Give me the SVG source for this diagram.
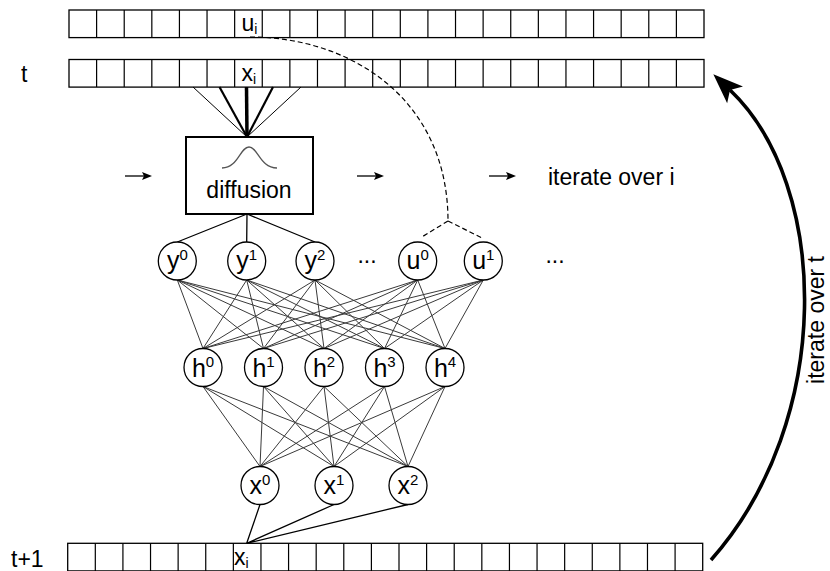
<svg xmlns="http://www.w3.org/2000/svg" xmlns:xlink="http://www.w3.org/1999/xlink" width="830" height="571" viewBox="0 0 830 571">
  <style>
    text { font-family: "Liberation Sans", Arial, sans-serif; fill: #000; }
    .lbl { font-size: 23px; }
    .nlbl { font-size: 25px; text-anchor: middle; }
    .sup { font-size: 15px; }
    .sub { font-size: 14px; }
    .strip { fill: #fff; stroke: #000; stroke-width: 1.3; }
    .cellsep { fill: none; stroke: #000; stroke-width: 1.2; }
    .node { fill: #fff; stroke: #000; stroke-width: 1.3; }
    .mesh { fill: none; stroke: #3a3a3a; stroke-width: 1; }
    .wire { fill: none; stroke: #000; stroke-width: 1.3; }
    .dash { fill: none; stroke: #000; stroke-width: 1.2; stroke-dasharray: 5 3; }
  </style>
  <defs>
    <!-- a row of 23 square cells -->
    <g id="strip">
      <rect class="strip" x="0" y="0" width="635" height="27.6"/>
      <path class="cellsep" d="M27.61 0V27.6M55.22 0V27.6M82.83 0V27.6M110.43 0V27.6M138.04 0V27.6M165.65 0V27.6M193.26 0V27.6M220.87 0V27.6M248.48 0V27.6M276.09 0V27.6M303.7 0V27.6M331.3 0V27.6M358.91 0V27.6M386.52 0V27.6M414.13 0V27.6M441.74 0V27.6M469.35 0V27.6M496.96 0V27.6M524.57 0V27.6M552.17 0V27.6M579.78 0V27.6M607.39 0V27.6"/>
    </g>
    <marker id="smallHead" markerUnits="userSpaceOnUse" orient="auto" refX="0" refY="0" markerWidth="12" markerHeight="10" overflow="visible">
      <path d="M8 0L-2 -4L0 0L-2 4Z" fill="#000"/>
    </marker>
    <marker id="bigHead" markerUnits="userSpaceOnUse" orient="auto" refX="0" refY="0" markerWidth="40" markerHeight="30" overflow="visible">
      <path d="M23 0L-7 -11.5L0 0L-7 11.5Z" fill="#000"/>
    </marker>
  </defs>

  <!-- side labels -->
  <text class="lbl" x="21" y="82">t</text>
  <text class="lbl" x="11" y="567">t+1</text>

  <!-- state arrays -->
  <g id="array-u">
    <use xlink:href="#strip" x="69" y="10"/>
    <text class="lbl" x="241.5" y="31">u<tspan class="sub" dy="3">i</tspan></text>
  </g>
  <g id="array-x-t">
    <use xlink:href="#strip" x="69" y="59.5"/>
    <text class="lbl" x="241.5" y="81">x<tspan class="sub" dy="3">i</tspan></text>
  </g>
  <g id="array-x-t1">
    <use xlink:href="#strip" x="67.7" y="543.3"/>
    <text class="lbl" x="234" y="565">x<tspan class="sub" dy="3">i</tspan></text>
  </g>

  <!-- connectors -->
  <g id="connectors">
    <!-- neighbourhood fan into the diffusion kernel -->
    <line x1="193" y1="87" x2="247" y2="137" stroke="#000" stroke-width="1"/>
    <line x1="219.5" y1="87" x2="247" y2="137" stroke="#000" stroke-width="2.2"/>
    <line x1="246.5" y1="87" x2="247" y2="137" stroke="#000" stroke-width="3.5"/>
    <line x1="273" y1="87" x2="247" y2="137" stroke="#000" stroke-width="2.2"/>
    <line x1="301" y1="87" x2="247" y2="137" stroke="#000" stroke-width="1"/>

    <!-- diffusion outputs -->
    <path class="wire" d="M247 214L177.3 242M247 214L246.7 242M247 214L315 242"/>

    <!-- u_i feeds the u inputs -->
    <path class="dash" d="M250 37C352 37 448 100 448 221"/>
    <path class="dash" d="M448 221L421 237.5M448 221L483 238.5"/>

    <!-- input layer to hidden layer -->
    <path class="mesh" d="M177.3 280L203 348.5M177.3 280L263.5 348.5M177.3 280L324 348.5M177.3 280L384.5 348.5M177.3 280L445 348.5
      M246.7 280L203 348.5M246.7 280L263.5 348.5M246.7 280L324 348.5M246.7 280L384.5 348.5M246.7 280L445 348.5
      M315 280L203 348.5M315 280L263.5 348.5M315 280L324 348.5M315 280L384.5 348.5M315 280L445 348.5
      M417.7 280L203 348.5M417.7 280L263.5 348.5M417.7 280L324 348.5M417.7 280L384.5 348.5M417.7 280L445 348.5
      M483.3 280L203 348.5M483.3 280L263.5 348.5M483.3 280L324 348.5M483.3 280L384.5 348.5M483.3 280L445 348.5"/>

    <!-- hidden layer to output layer -->
    <path class="mesh" d="M203 386.5L260 466.5M203 386.5L334 466.5M203 386.5L408 466.5
      M263.5 386.5L260 466.5M263.5 386.5L334 466.5M263.5 386.5L408 466.5
      M324 386.5L260 466.5M324 386.5L334 466.5M324 386.5L408 466.5
      M384.5 386.5L260 466.5M384.5 386.5L334 466.5M384.5 386.5L408 466.5
      M445 386.5L260 466.5M445 386.5L334 466.5M445 386.5L408 466.5"/>

    <!-- outputs write back into x_i -->
    <path class="wire" d="M260 504.5L246.7 543.3M334 504.5L246.7 543.3M408 504.5L246.7 543.3"/>

    <!-- sweep direction arrows -->
    <line x1="125" y1="176" x2="144" y2="176" stroke="#000" stroke-width="1.3" marker-end="url(#smallHead)"/>
    <line x1="357" y1="176" x2="376" y2="176" stroke="#000" stroke-width="1.3" marker-end="url(#smallHead)"/>
    <line x1="489" y1="176" x2="508" y2="176" stroke="#000" stroke-width="1.3" marker-end="url(#smallHead)"/>

    <!-- time loop -->
    <path d="M711 560C835 420 830 185 730 90" fill="none" stroke="#000" stroke-width="3.6" marker-end="url(#bigHead)"/>
  </g>

  <text class="lbl" x="548" y="185">iterate over i</text>
  <text class="lbl" transform="translate(824 320) rotate(-90)" text-anchor="middle">iterate over t</text>

  <!-- diffusion kernel -->
  <g id="diffusion">
    <rect x="186" y="137" width="127" height="77" fill="#fff" stroke="#000" stroke-width="2"/>
    <path d="M222 168C238 168 240 147 249 147C258 147 260 168 277 168" fill="none" stroke="#555" stroke-width="1.3"/>
    <text class="lbl" x="249" y="198" text-anchor="middle">diffusion</text>
  </g>

  <!-- input layer -->
  <g id="y0"><circle class="node" cx="177.3" cy="261" r="19"/><text class="nlbl" x="177.3" y="269">y<tspan class="sup" dy="-9">0</tspan></text></g>
  <g id="y1"><circle class="node" cx="246.7" cy="261" r="19"/><text class="nlbl" x="246.7" y="269">y<tspan class="sup" dy="-9">1</tspan></text></g>
  <g id="y2"><circle class="node" cx="315" cy="261" r="19"/><text class="nlbl" x="315" y="269">y<tspan class="sup" dy="-9">2</tspan></text></g>
  <text class="lbl" x="367" y="263" text-anchor="middle">...</text>
  <g id="u0"><circle class="node" cx="417.7" cy="261" r="19"/><text class="nlbl" x="417.7" y="269">u<tspan class="sup" dy="-9">0</tspan></text></g>
  <g id="u1"><circle class="node" cx="483.3" cy="261" r="19"/><text class="nlbl" x="483.3" y="269">u<tspan class="sup" dy="-9">1</tspan></text></g>
  <text class="lbl" x="555" y="263" text-anchor="middle">...</text>

  <!-- hidden layer -->
  <g id="h0"><circle class="node" cx="203" cy="367.5" r="19"/><text class="nlbl" x="203" y="377">h<tspan class="sup" dy="-10">0</tspan></text></g>
  <g id="h1"><circle class="node" cx="263.5" cy="367.5" r="19"/><text class="nlbl" x="263.5" y="377">h<tspan class="sup" dy="-10">1</tspan></text></g>
  <g id="h2"><circle class="node" cx="324" cy="367.5" r="19"/><text class="nlbl" x="324" y="377">h<tspan class="sup" dy="-10">2</tspan></text></g>
  <g id="h3"><circle class="node" cx="384.5" cy="367.5" r="19"/><text class="nlbl" x="384.5" y="377">h<tspan class="sup" dy="-10">3</tspan></text></g>
  <g id="h4"><circle class="node" cx="445" cy="367.5" r="19"/><text class="nlbl" x="445" y="377">h<tspan class="sup" dy="-10">4</tspan></text></g>

  <!-- output layer -->
  <g id="x0"><circle class="node" cx="260" cy="485.5" r="19"/><text class="nlbl" x="260" y="494">x<tspan class="sup" dy="-9">0</tspan></text></g>
  <g id="x1"><circle class="node" cx="334" cy="485.5" r="19"/><text class="nlbl" x="334" y="494">x<tspan class="sup" dy="-9">1</tspan></text></g>
  <g id="x2"><circle class="node" cx="408" cy="485.5" r="19"/><text class="nlbl" x="408" y="494">x<tspan class="sup" dy="-9">2</tspan></text></g>
</svg>
